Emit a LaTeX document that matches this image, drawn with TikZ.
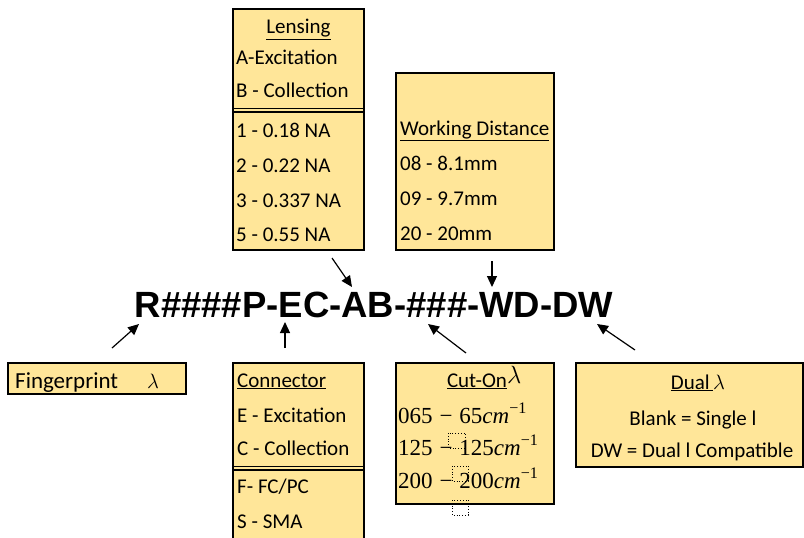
\documentclass[tikz,border=0pt]{standalone}
\usepackage{fontspec}
\setmainfont{Carlito}
\newfontfamily\codefont{Liberation Sans}
\newfontfamily\eqfont{Liberation Serif}
\usetikzlibrary{arrows.meta}
\definecolor{boxfill}{RGB}{255,230,153}
\newcommand{\cutval}[2]{#1\hspace{0.3em}−\hspace{0.3em}#2\textit{cm}\textsuperscript{−1}}

\begin{document}
\begin{tikzpicture}[x=1pt, y=-1pt,
    box/.style={draw=black, line width=2pt, fill=boxfill},
    sepline/.style={line width=1.2pt},
    txt/.style={anchor=base west, inner sep=0pt, font=\fontsize{21}{25}\selectfont},
    ctxt/.style={anchor=base, inner sep=0pt, font=\fontsize{21}{25}\selectfont},
    mtxt/.style={anchor=base west, inner sep=0pt, font=\eqfont\fontsize{23}{27}\selectfont},
    ptr/.style={-{Triangle[length=11pt,width=10pt]}, line width=1.2pt}]
  \useasboundingbox (0,0) rectangle (804,538);
  \clip (0,0) rectangle (804,538);

  % part number
  \node[anchor=base, inner sep=0pt, font=\codefont\bfseries\fontsize{36.5}{40}\selectfont]
       (code) at (374,317) {R\#\#\#\#P-EC-AB-\#\#\#-WD-DW};

  % lensing
  \draw[box] (233,9) rectangle (364,250);
  \draw[sepline] (233,108.5) -- (364,108.5);
  \draw[sepline] (233,112) -- (364,112);
  \node[ctxt] (lenshead) at (298.5,34) {\underline{Lensing}};
  \node[txt] (lensA) at (236,64) {A-Excitation};
  \node[txt] (lensB) at (236,97) {B - Collection};
  \node[txt] (na1) at (236,137) {1 - 0.18 NA};
  \node[txt] (na2) at (236,172) {2 - 0.22 NA};
  \node[txt] (na3) at (236,207) {3 - 0.337 NA};
  \node[txt] (na5) at (236,241) {5 - 0.55 NA};

  % working distance
  \draw[box] (396,73) rectangle (554,250);
  \node[txt] (wdhead) at (400,135) {\underline{Working Distance}};
  \node[txt] (wd08) at (400,170) {08 - 8.1mm};
  \node[txt] (wd09) at (400,205) {09 - 9.7mm};
  \node[txt] (wd20) at (400,240) {20 - 20mm};

  % fingerprint
  \draw[box] (8,363) rectangle (186,394);
  \node[txt, font=\fontsize{23}{27}\selectfont] (finger) at (15,388) {Fingerprint};
  \node[txt] (fingerlam) at (147,388) {$\lambda$};

  % connector
  \draw[box] (233,363) rectangle (364,545);
  \draw[sepline] (233,466.5) -- (364,466.5);
  \draw[sepline] (233,470) -- (364,470);
  \node[txt] (conhead) at (237,387) {\underline{Connector}};
  \node[txt] (conE) at (237,422) {E - Excitation};
  \node[txt] (conC) at (237,455) {C - Collection};
  \node[txt] (conF) at (237,493) {F- FC/PC};
  \node[txt] (conS) at (237,528) {S - SMA};

  % cut-on
  \draw[box] (396,363) rectangle (554,504);
  \node[ctxt] (cuthead) at (477,387) {\underline{Cut-On}};
  \node[txt, font=\fontsize{23}{27}\selectfont] (cutlam) at (507,383) {$\lambda$};
  \node[mtxt] (cut065) at (398,423) {\cutval{065}{65}};
  \node[mtxt] (cut125) at (398,455) {\cutval{125}{125}};
  \node[mtxt] (cut200) at (398,488) {\cutval{200}{200}};
  \draw[dotted, line width=0.8pt] (448,433) rectangle (465,448);
  \draw[dotted, line width=0.8pt] (452,466) rectangle (468,481);
  \draw[dotted, line width=0.8pt] (452,500) rectangle (468,515);

  % dual
  \draw[box] (576,363) rectangle (803,467);
  \node[ctxt] (dualhead) at (698,389) {\underline{Dual\,}$\lambda$};
  \node[ctxt] (dualblank) at (693,425) {Blank = Single l};
  \node[ctxt] (dualdw) at (692,457) {DW = Dual l Compatible};

  % pointers
  \coordinate (lensT) at (332,258);
  \coordinate (lensH) at (352,287);
  \coordinate (wdT) at (492,261);
  \coordinate (wdH) at (492,287);
  \coordinate (fingerT) at (112,348);
  \coordinate (fingerH) at (139,324);
  \coordinate (conT) at (285,348);
  \coordinate (conH) at (285,322);
  \coordinate (cutT) at (466,353);
  \coordinate (cutH) at (428,324);
  \coordinate (dualT) at (635,350);
  \coordinate (dualH) at (597,324);
  \draw[ptr] (lensT) -- (lensH);
  \draw[ptr] (wdT) -- (wdH);
  \draw[ptr] (fingerT) -- (fingerH);
  \draw[ptr] (conT) -- (conH);
  \draw[ptr] (cutT) -- (cutH);
  \draw[ptr] (dualT) -- (dualH);
\end{tikzpicture}
\end{document}
